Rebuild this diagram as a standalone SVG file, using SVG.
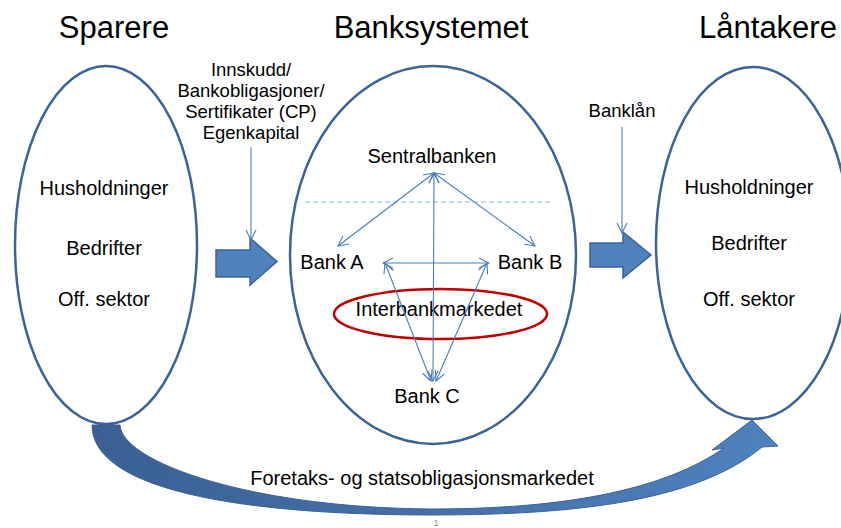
<svg xmlns="http://www.w3.org/2000/svg" width="841" height="528" viewBox="0 0 841 528">
<style>
text{font-family:"Liberation Sans",Arial,sans-serif;fill:#000;text-anchor:middle}
.title{font-size:31px}
.lbl{font-size:20px}
.sm{font-size:18.5px}
.oval{fill:none;stroke:#3b6398;stroke-width:2.5}
.thin{fill:none;stroke:#4a7ebb;stroke-width:1.1}
.block{fill:#4f81bd;stroke:#3b6398;stroke-width:1.5}
</style>
<defs>
<marker id="ah" viewBox="0 0 12 12" refX="11" refY="6" markerWidth="12" markerHeight="12" markerUnits="userSpaceOnUse" orient="auto-start-reverse">
<path d="M1,1 L11,6 L1,11" fill="none" stroke="#4a7ebb" stroke-width="1.1"/>
</marker>
<linearGradient id="bg" x1="0" y1="0" x2="1" y2="0">
<stop offset="0" stop-color="#3a6094"/>
<stop offset="1" stop-color="#4f81bd"/>
</linearGradient>
</defs>
<rect width="841" height="528" fill="#fff"/>

<g id="titles">
<text class="title" x="114" y="38">Sparere</text>
<text class="title" x="431" y="38">Banksystemet</text>
<text class="title" x="768" y="38">Låntakere</text>
</g>

<g id="sparere">
<ellipse class="oval" cx="106" cy="245" rx="91" ry="179"/>
<text class="lbl" x="104" y="195">Husholdninger</text>
<text class="lbl" x="104" y="255">Bedrifter</text>
<text class="lbl" x="104" y="306">Off. sektor</text>
</g>

<g id="banksystemet">
<ellipse class="oval" cx="433" cy="255" rx="143" ry="189"/>
<line x1="305" y1="202" x2="553" y2="202" stroke="#8eb4e3" stroke-width="1.2" stroke-dasharray="5,3"/>
</g>

<g id="laantakere">
<ellipse class="oval" cx="753" cy="243" rx="97" ry="176"/>
<text class="lbl" x="749" y="194">Husholdninger</text>
<text class="lbl" x="749" y="250">Bedrifter</text>
<text class="lbl" x="749" y="306">Off. sektor</text>
</g>

<g id="sentralbanken"><text class="lbl" x="432" y="163">Sentralbanken</text></g>
<g id="bankA"><text class="lbl" x="332" y="269">Bank A</text></g>
<g id="bankB"><text class="lbl" x="530" y="269">Bank B</text></g>
<g id="bankC"><text class="lbl" x="427" y="403">Bank C</text></g>
<g id="interbank">
<ellipse cx="440.5" cy="314" rx="106.5" ry="25" fill="none" stroke="#c00000" stroke-width="2.5"/>
<text class="lbl" x="439" y="316">Interbankmarkedet</text>
</g>

<g id="innskudd">
<text class="sm" x="251" y="76">Innskudd/</text>
<text class="sm" x="251" y="97">Bankobligasjoner/</text>
<text class="sm" x="251" y="118">Sertifikater (CP)</text>
<text class="sm" x="251" y="139">Egenkapital</text>
</g>
<g id="banklaan"><text class="sm" x="622" y="117">Banklån</text></g>

<g id="blockarrows">
<path class="block" d="M216,250 L250,250 L250,238 L277,261.5 L250,285 L250,277 L216,277 Z"/>
<path class="block" d="M590,243 L623,243 L623,232 L651,255 L623,278 L623,267 L590,267 Z"/>
<path d="M92,425 L120,425 C122,462 250,508 432,509 C590,509 675,482 724,448 L712,450 L752,420 L778,446 L762,447 C700,498 590,515 432,515 C250,515 92,492 92,425 Z" fill="url(#bg)" stroke="#3b6398" stroke-width="1"/>
<text class="lbl" x="422" y="485">Foretaks- og statsobligasjonsmarkedet</text>
</g>

<g id="connectors">
<line class="thin" x1="251" y1="147" x2="251" y2="240" marker-end="url(#ah)"/>
<line class="thin" x1="622" y1="127" x2="622" y2="233" marker-end="url(#ah)"/>
<line class="thin" x1="434" y1="173" x2="338" y2="246" marker-start="url(#ah)" marker-end="url(#ah)"/>
<line class="thin" x1="434" y1="173" x2="535" y2="246" marker-start="url(#ah)" marker-end="url(#ah)"/>
<line class="thin" x1="434" y1="173" x2="433" y2="381" marker-start="url(#ah)" marker-end="url(#ah)"/>
<line class="thin" x1="383" y1="263" x2="489" y2="263" marker-start="url(#ah)" marker-end="url(#ah)"/>
<line class="thin" x1="385" y1="263" x2="431" y2="381" marker-start="url(#ah)" marker-end="url(#ah)"/>
<line class="thin" x1="487" y1="263" x2="436" y2="381" marker-start="url(#ah)" marker-end="url(#ah)"/>
</g>

<text x="436" y="526" style="font-size:9px;fill:#888">1</text>
</svg>
